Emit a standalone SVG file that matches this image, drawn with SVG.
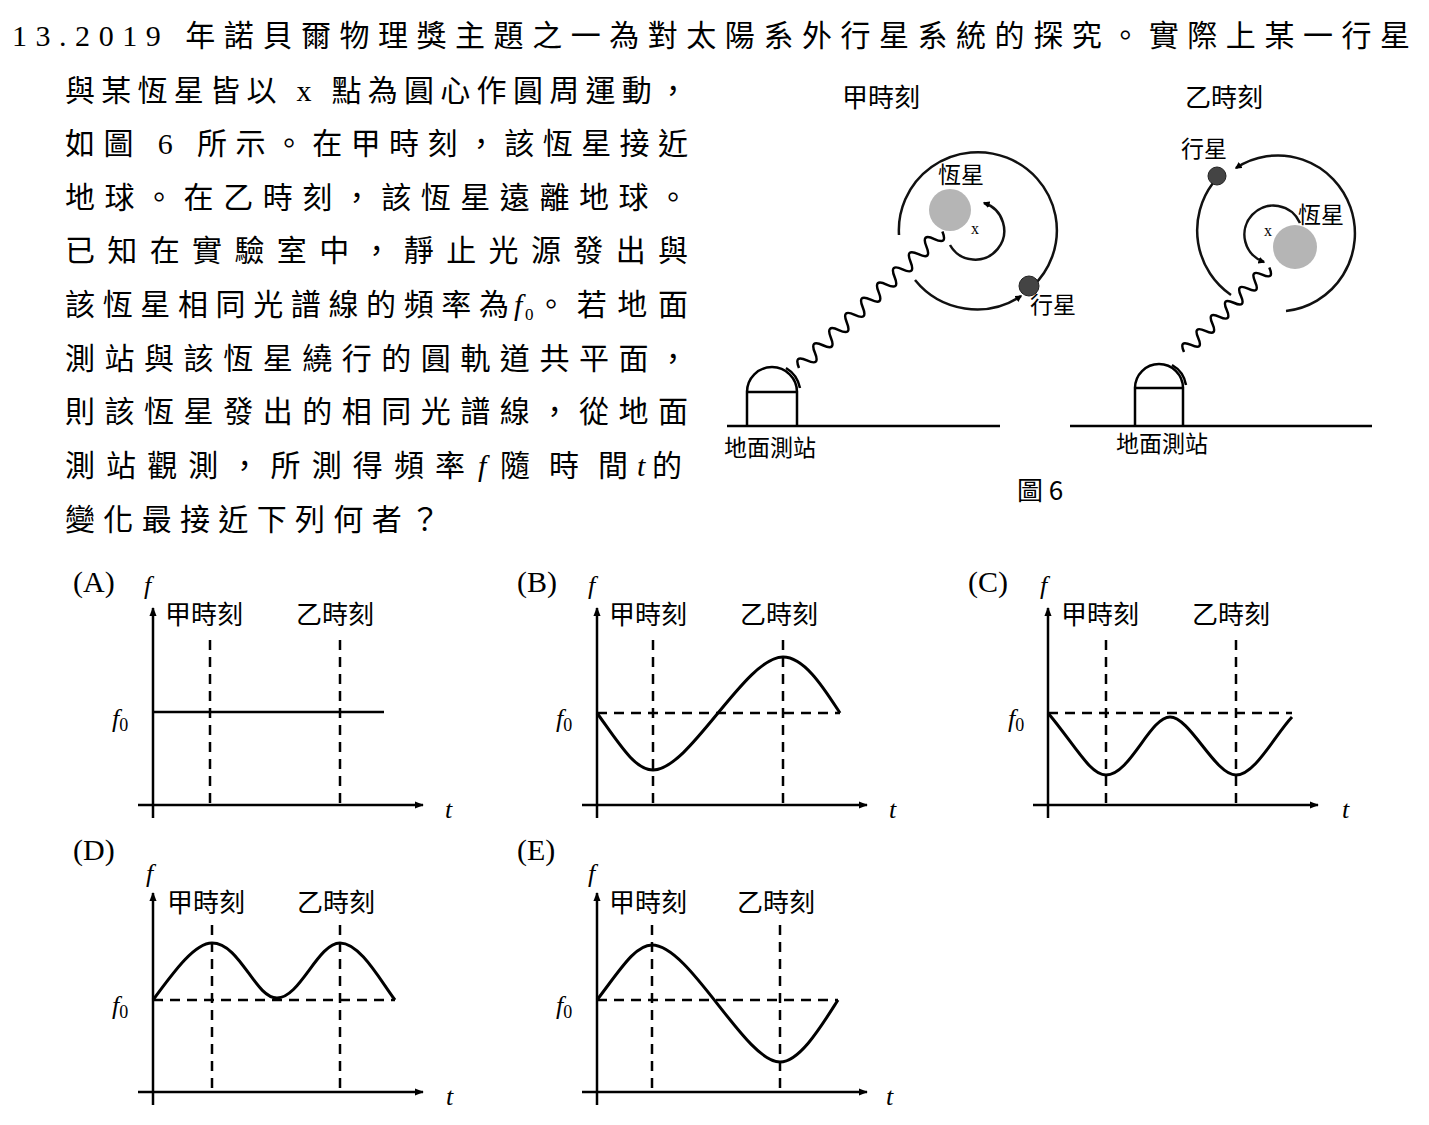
<svg xmlns="http://www.w3.org/2000/svg" width="1429" height="1125" viewBox="0 0 1429 1125">
<defs>
<marker id="ah" viewBox="0 0 10 10" refX="8" refY="5" markerWidth="7" markerHeight="7" orient="auto" markerUnits="userSpaceOnUse"><path d="M0,0L10,5L0,10z" fill="#000"/></marker>
<marker id="ax" viewBox="0 0 10 10" refX="9" refY="5" markerWidth="9" markerHeight="9" orient="auto" markerUnits="userSpaceOnUse"><path d="M0,1L10,5L0,9z" fill="#000"/></marker>
</defs>
<style>
.t{font-family:"Liberation Serif","Noto Sans CJK TC",serif;font-size:30px;fill:#000}
.sub{font-family:"Liberation Serif",serif;font-size:17px;fill:#000}
.s{font-family:"Noto Sans CJK TC",sans-serif;font-size:23px;fill:#000}
.l{font-family:"Noto Sans CJK TC",sans-serif;font-size:26px;fill:#000}
.i{font-family:"Liberation Serif",serif;font-style:italic;font-size:26px}
.ln{fill:none;stroke:#000;stroke-width:2.5}
.d{fill:none;stroke:#000;stroke-width:2.5;stroke-dasharray:10,7}
.c{fill:none;stroke:#000;stroke-width:3}
.o{fill:none;stroke:#111;stroke-width:2.5}
</style>
<rect width="1429" height="1125" fill="#fff"/>
<g id="text">
<text class="t" x="12" y="46" textLength="1398" lengthAdjust="spacing">13.2019 年諾貝爾物理獎主題之一為對太陽系外行星系統的探究。實際上某一行星</text>
<text class="t" x="65" y="101" textLength="623" lengthAdjust="spacing">與某恆星皆以 x 點為圓心作圓周運動，</text>
<text class="t" x="65" y="154" textLength="623" lengthAdjust="spacing">如圖 6 所示。在甲時刻，該恆星接近</text>
<text class="t" x="65" y="208" textLength="623" lengthAdjust="spacing">地球。在乙時刻，該恆星遠離地球。</text>
<text class="t" x="65" y="261" textLength="623" lengthAdjust="spacing">已知在實驗室中，靜止光源發出與</text>
<text class="t" x="65" y="315" textLength="444" lengthAdjust="spacing">該恆星相同光譜線的頻率為</text>
<text class="t" x="514" y="315" font-style="italic">f</text><text class="sub" x="525" y="320">0</text>
<text class="t" x="536" y="315" textLength="152" lengthAdjust="spacing">。若地面</text>
<text class="t" x="65" y="369" textLength="623" lengthAdjust="spacing">測站與該恆星繞行的圓軌道共平面，</text>
<text class="t" x="65" y="422" textLength="623" lengthAdjust="spacing">則該恆星發出的相同光譜線，從地面</text>
<text class="t" x="65" y="476" textLength="400" lengthAdjust="spacing">測站觀測，所測得頻率</text>
<text class="t" x="478" y="476" font-style="italic">f</text>
<text class="t" x="500" y="476" textLength="128" lengthAdjust="spacing">隨時間</text>
<text class="t" x="637" y="476" font-style="italic">t</text>
<text class="t" x="652" y="476">的</text>
<text class="t" x="65" y="530" textLength="375" lengthAdjust="spacing">變化最接近下列何者？</text>
</g>
<g id="fig6">
<text class="l" x="842" y="107">甲時刻</text>
<text class="l" x="1185" y="107">乙時刻</text>
<text class="l" x="1017" y="500">圖 6</text>
<line class="ln" x1="727" y1="426" x2="1000" y2="426"/>
<path class="ln" d="M747,426V392H797V426M747,392A25,25 0 0 1 797,392"/>
<path class="ln" d="M786,368A30,30 0 0 1 800,388" stroke-width="3"/>
<path class="ln" d="M0,0q5.5,-14 11,0t11,0t11,0t11,0t11,0t11,0t11,0t11,0t11,0t11,0t11,0t11,0t11,0t11,0t11,0t11,0t11,0t11,0" stroke-width="1.8" transform="translate(799,368) rotate(-43.6)"/>
<circle cx="950" cy="210" r="21" fill="#b5b5b5"/>
<path class="o" d="M899,235A79,78 0 1 1 1032,287"/>
<path class="o" d="M915,280A79,78 0 0 0 1021,296" marker-end="url(#ah)"/>
<path class="o" d="M950,245A29,29 0 1 0 984,203" marker-end="url(#ah)"/>
<circle cx="1029" cy="286" r="10" fill="#444" stroke="#222"/>
<text class="s" x="938" y="183">恆星</text>
<text x="971" y="234" font-family="Liberation Serif,serif" font-size="16">x</text>
<text class="s" x="1030" y="313">行星</text>
<text class="s" x="724" y="456">地面測站</text>
<line class="ln" x1="1070" y1="426" x2="1372" y2="426"/>
<path class="ln" d="M1135,426V388H1183V426M1135,388A24,24 0 0 1 1183,388"/>
<path class="ln" d="M1172,365A28,28 0 0 1 1186,385" stroke-width="3"/>
<path class="ln" d="M0,0q5,-13 10,0t10,0t10,0t10,0t10,0t10,0t10,0t10,0t10,0t10,0t10,0t10,0" stroke-width="1.8" transform="translate(1184,352) rotate(-44.7)"/>
<circle cx="1295" cy="247" r="22" fill="#b5b5b5"/>
<path class="o" d="M1286,311A77,78 0 1 0 1236,168" marker-end="url(#ah)"/>
<path class="o" d="M1213,183A77,78 0 0 0 1231,295"/>
<path class="o" d="M1300,223A29,29 0 1 0 1264,262" marker-end="url(#ah)"/>
<circle cx="1217" cy="176" r="9" fill="#444" stroke="#222"/>
<text class="s" x="1181" y="157">行星</text>
<text class="s" x="1298" y="223">恆星</text>
<text x="1264" y="236" font-family="Liberation Serif,serif" font-size="16">x</text>
<text class="s" x="1116" y="452">地面測站</text>
</g>
<g id="graphA">
<text class="t" x="73" y="592">(A)</text>
<text class="i" x="144" y="594">f</text>
<line class="ln" x1="153" y1="818" x2="153" y2="608" marker-end="url(#ax)"/>
<line class="ln" x1="138" y1="805" x2="423" y2="805" marker-end="url(#ax)"/>
<text class="l" x="165" y="624">甲時刻</text><text class="l" x="296" y="624">乙時刻</text>
<text class="i" x="445" y="818">t</text>
<text class="i" x="112" y="727">f<tspan font-style="normal" font-size="18" dy="4">0</tspan></text>
<line class="d" x1="210" y1="640" x2="210" y2="805"/>
<line class="d" x1="340" y1="640" x2="340" y2="805"/>
<line class="ln" x1="153" y1="712" x2="384" y2="712"/>
</g>
<g id="graphB">
<text class="t" x="517" y="592">(B)</text>
<text class="i" x="588" y="594">f</text>
<line class="ln" x1="597" y1="818" x2="597" y2="608" marker-end="url(#ax)"/>
<line class="ln" x1="582" y1="805" x2="867" y2="805" marker-end="url(#ax)"/>
<text class="l" x="609" y="624">甲時刻</text><text class="l" x="740" y="624">乙時刻</text>
<text class="i" x="889" y="818">t</text>
<text class="i" x="556" y="727">f<tspan font-style="normal" font-size="18" dy="4">0</tspan></text>
<line class="d" x1="653" y1="640" x2="653" y2="805"/>
<line class="d" x1="783" y1="640" x2="783" y2="805"/>
<line class="d" x1="597" y1="713" x2="840" y2="713"/>
<path class="c" d="M597,713C620,745 635,770 653,770C690,770 745,657 783,657C805,657 825,690 840,713"/>
</g>
<g id="graphC">
<text class="t" x="968" y="592">(C)</text>
<text class="i" x="1040" y="594">f</text>
<line class="ln" x1="1048" y1="818" x2="1048" y2="608" marker-end="url(#ax)"/>
<line class="ln" x1="1033" y1="805" x2="1318" y2="805" marker-end="url(#ax)"/>
<text class="l" x="1061" y="624">甲時刻</text><text class="l" x="1192" y="624">乙時刻</text>
<text class="i" x="1342" y="818">t</text>
<text class="i" x="1008" y="727">f<tspan font-style="normal" font-size="18" dy="4">0</tspan></text>
<line class="d" x1="1106" y1="640" x2="1106" y2="805"/>
<line class="d" x1="1236" y1="640" x2="1236" y2="805"/>
<line class="d" x1="1048" y1="713" x2="1292" y2="713"/>
<path class="c" d="M1048,713C1075,745 1090,775 1106,775C1130,775 1150,717 1170,717C1190,717 1215,775 1236,775C1255,775 1275,735 1292,717"/>
</g>
<g id="graphD">
<text class="t" x="73" y="860">(D)</text>
<text class="i" x="146" y="882">f</text>
<line class="ln" x1="153" y1="1105" x2="153" y2="893" marker-end="url(#ax)"/>
<line class="ln" x1="138" y1="1092" x2="423" y2="1092" marker-end="url(#ax)"/>
<text class="l" x="167" y="912">甲時刻</text><text class="l" x="297" y="912">乙時刻</text>
<text class="i" x="446" y="1105">t</text>
<text class="i" x="112" y="1014">f<tspan font-style="normal" font-size="18" dy="4">0</tspan></text>
<line class="d" x1="212" y1="925" x2="212" y2="1092"/>
<line class="d" x1="340" y1="925" x2="340" y2="1092"/>
<line class="d" x1="153" y1="1000" x2="395" y2="1000"/>
<path class="c" d="M153,1000C175,970 195,943 212,943C240,943 255,998 277,998C300,998 318,943 340,943C360,943 380,980 395,1000"/>
</g>
<g id="graphE">
<text class="t" x="517" y="860">(E)</text>
<text class="i" x="588" y="882">f</text>
<line class="ln" x1="597" y1="1105" x2="597" y2="893" marker-end="url(#ax)"/>
<line class="ln" x1="582" y1="1092" x2="867" y2="1092" marker-end="url(#ax)"/>
<text class="l" x="609" y="912">甲時刻</text><text class="l" x="737" y="912">乙時刻</text>
<text class="i" x="886" y="1105">t</text>
<text class="i" x="556" y="1014">f<tspan font-style="normal" font-size="18" dy="4">0</tspan></text>
<line class="d" x1="652" y1="925" x2="652" y2="1092"/>
<line class="d" x1="780" y1="925" x2="780" y2="1092"/>
<line class="d" x1="597" y1="1000" x2="838" y2="1000"/>
<path class="c" d="M597,1000C620,970 635,945 652,945C690,945 745,1062 780,1062C800,1062 822,1025 838,1000"/>
</g>
</svg>
